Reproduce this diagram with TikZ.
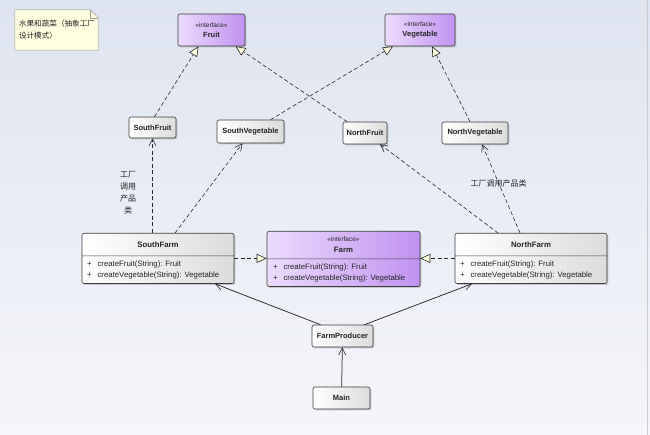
\documentclass[tikz,border=0pt]{standalone}
\usepackage{fontspec}
\setmainfont{Liberation Sans}
\newfontfamily\cjk{Noto Sans CJK SC}
\usetikzlibrary{arrows.meta,positioning,shapes.multipart,shadows,backgrounds}
\definecolor{bgTop}{RGB}{222,228,240}
\definecolor{bgBottom}{RGB}{245,246,250}
\definecolor{boxLine}{RGB}{60,60,60}
\definecolor{clsRight}{RGB}{220,220,220}
\definecolor{ifLeft}{RGB}{236,220,253}
\definecolor{ifRight}{RGB}{192,146,240}
\definecolor{lineCol}{RGB}{40,40,40}
\definecolor{noteFill}{RGB}{255,255,225}
\definecolor{noteLine}{RGB}{160,160,150}
\definecolor{txtCol}{RGB}{35,35,35}
\tikzset{
    cls/.style={rectangle,draw=boxLine,line width=0.6pt,rounded corners=2pt,left color=white,right color=clsRight,
        drop shadow={opacity=0.35,shadow xshift=1.4pt,shadow yshift=-1.4pt},
        font=\fontsize{7.5}{9}\selectfont\bfseries,text=txtCol,inner sep=3pt},
    iface/.style={cls,left color=ifLeft,right color=ifRight,align=center,
        font=\fontsize{7.5}{10}\selectfont},
    splitcls/.style={cls,rectangle split,rectangle split parts=2,
        rectangle split part align={center,left},
        font=\fontsize{7.8}{10.5}\selectfont,inner xsep=5pt,inner ysep=3pt},
    splitif/.style={splitcls,left color=ifLeft,right color=ifRight},
    notebox/.style={rectangle,minimum width=83pt,minimum height=40pt,inner sep=4pt,
        text width=75pt,align=left,font=\cjk\fontsize{7.6}{12}\selectfont,text=txtCol},
    realize/.style={draw=lineCol,line width=0.6pt,dash pattern=on 4pt off 2.5pt,
        -{Triangle[fill=noteFill,length=10pt,width=9pt,line width=0.6pt]}},
    depend/.style={draw=lineCol,line width=0.6pt,dash pattern=on 4pt off 2.5pt,
        -{Straight Barb[length=7pt,width=7pt,line width=0.6pt]}},
    assoc/.style={draw=lineCol,line width=0.75pt,
        -{Straight Barb[length=7pt,width=7pt,line width=0.6pt]}},
    lbl/.style={font=\cjk\fontsize{8}{12}\selectfont,align=center,text=txtCol,inner sep=1pt}
}

\begin{document}
\begin{tikzpicture}[x=1pt,y=-1pt]
    \useasboundingbox (0,0) rectangle (650,435);
    % note
    \node[notebox]                              (note)        at (56.5,30)  {水果和蔬菜（抽象工厂\\设计模式）};
    % products
    \node[iface,minimum width=67pt,minimum height=32pt] (fruit)     at (211.5,30) {{\fontsize{6.5}{8}\selectfont «interface»}\\\textbf{Fruit}};
    \node[iface,minimum width=70pt,minimum height=32pt] (vegetable) at (420,30)   {{\fontsize{6.5}{8}\selectfont «interface»}\\\textbf{Vegetable}};
    \node[cls,minimum width=47pt,minimum height=21pt] (southFruit) at (152.5,127.5) {SouthFruit};
    \node[cls,minimum width=67pt,minimum height=23pt] (southVeg)   at (250.5,131.5) {SouthVegetable};
    \node[cls,minimum width=44pt,minimum height=22pt] (northFruit) at (365,133)     {NorthFruit};
    \node[cls,minimum width=66pt,minimum height=22pt] (northVeg)   at (475,133)     {NorthVegetable};
    % factories
    \node[splitcls,minimum width=152pt,anchor=north] (southFarm) at (158,233)
        {\textbf{SouthFarm}\rule[-5pt]{0pt}{16pt}
         \nodepart{two}\begin{tabular}{@{}l@{\hspace{6pt}}l@{}}+ & createFruit(String): Fruit\\+ & createVegetable(String): Vegetable\end{tabular}};
    \node[splitif,minimum width=153pt,anchor=north,inner xsep=6pt] (farm) at (343.5,231)
        {\begin{tabular}{@{}c@{}}{\fontsize{6.5}{10.5}\selectfont «interface»}\\\textbf{Farm}\end{tabular}
         \nodepart{two}\begin{tabular}{@{}l@{\hspace{6pt}}l@{}}+ & createFruit(String): Fruit\\+ & createVegetable(String): Vegetable\end{tabular}};
    \node[splitcls,minimum width=152pt,anchor=north] (northFarm) at (531,233)
        {\textbf{NorthFarm}\rule[-5pt]{0pt}{16pt}
         \nodepart{two}\begin{tabular}{@{}l@{\hspace{6pt}}l@{}}+ & createFruit(String): Fruit\\+ & createVegetable(String): Vegetable\end{tabular}};
    \node[cls,minimum width=61pt,minimum height=22pt] (farmProducer) at (342.5,336) {FarmProducer};
    \node[cls,minimum width=57pt,minimum height=22pt] (main)         at (341.5,398) {Main};

    % realizations
    \draw[realize] ([xshift=2pt]southFruit.north) -- ([xshift=-13pt]fruit.south);
    \draw[realize] ([xshift=-18pt]northFruit.north) -- ([xshift=24pt]fruit.south);
    \draw[realize] ([xshift=20pt]southVeg.north) -- ([xshift=-27pt]vegetable.south);
    \draw[realize] ([xshift=-5pt]northVeg.north) -- ([xshift=12pt]vegetable.south);
    \draw[realize] (southFarm.east) -- (southFarm.east -| farm.west);
    \draw[realize] (northFarm.west) -- (northFarm.west -| farm.east);

    % factories use their products
    \draw[depend] (southFruit.south |- southFarm.north) -- node[lbl,left=15pt,pos=0.42]{工厂\\调用\\产品\\类} (southFruit.south);
    \draw[depend] ([xshift=17pt]southFarm.north) -- ([xshift=-8pt]southVeg.south);
    \draw[depend] ([xshift=-33pt]northFarm.north) -- ([xshift=15pt]northFruit.south);
    \draw[depend] ([xshift=-11pt]northFarm.north) -- node[lbl,pos=0.56]{工厂调用产品类} ([xshift=7pt]northVeg.south);

    % producer and client
    \draw[assoc] ([xshift=-22pt]farmProducer.north) -- ([xshift=57pt]southFarm.south);
    \draw[assoc] ([xshift=22pt]farmProducer.north) -- ([xshift=-59pt]northFarm.south);
    \draw[assoc] (main) -- (farmProducer);

    \begin{scope}[on background layer]
        \fill[top color=bgTop,bottom color=bgBottom] (0,0) rectangle (650,435);
        \draw[black!20] (647.5,0) -- (647.5,435);
        \filldraw[fill=noteFill,draw=noteLine,line width=0.5pt]
            (note.north west) -- ([xshift=-8pt]note.north east) -- ([yshift=-8pt]note.north east)
            -- (note.south east) -- (note.south west) -- cycle;
        \draw[noteLine,line width=0.5pt] ([xshift=-8pt]note.north east) -- ([xshift=-8pt,yshift=-8pt]note.north east)
            -- ([yshift=-8pt]note.north east);
    \end{scope}
\end{tikzpicture}
\end{document}
